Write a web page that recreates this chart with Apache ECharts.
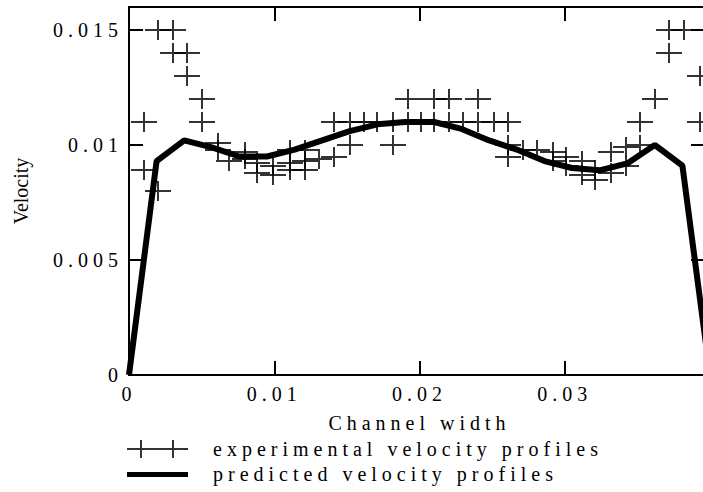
<!DOCTYPE html>
<html>
<head>
<meta charset="utf-8">
<title>Velocity profiles</title>
<script src="https://cdn.jsdelivr.net/npm/echarts@6.0.0/dist/echarts.min.js"></script>
<style>
    html, body { margin: 0; padding: 0; background: #fff; }
    #main { width: 703px; height: 492px; }
    /* the old plot is stretched sideways, so spread the flat text out */
    #main text { letter-spacing: 5px; }
    #main text[transform^="matrix(0,"], #main text[transform*="e-17"] { letter-spacing: 0; }
    /* hard black crosses and axes like the scanned plot, smooth thick line */
    #main path { shape-rendering: crispEdges; }
    #main path[stroke-width="6"] { shape-rendering: auto; }
</style>
</head>
<body>
<div id="main"></div>
<script>
// experimental points
var expX = [0.0010, 0.0010, 0.0020, 0.0020, 0.0030, 0.0030, 0.0040, 0.0040, 0.0050, 0.0050,
    0.0061, 0.0061, 0.0069, 0.0080, 0.0080, 0.0088, 0.0088, 0.0099, 0.0099,
    0.0111, 0.0111, 0.0111, 0.0121, 0.0121, 0.0121, 0.0131, 0.0141, 0.0152,
    0.0141, 0.0152, 0.0162, 0.0171, 0.0182, 0.0192, 0.0201, 0.0210, 0.0220, 0.0230, 0.0240, 0.0251, 0.0261,
    0.0192, 0.0210, 0.0220, 0.0240,
    0.0182, 0.0261, 0.0261, 0.0271, 0.0281,
    0.0292, 0.0292, 0.0301, 0.0301, 0.0312, 0.0312, 0.0321, 0.0321, 0.0332, 0.0332, 0.0342, 0.0342, 0.0352,
    0.0352, 0.0362, 0.0372, 0.0372, 0.0382, 0.0393, 0.0393];
var expY = [0.0110, 0.0089, 0.0080, 0.0150, 0.0150, 0.0140, 0.0140, 0.0130, 0.0120, 0.0110,
    0.0101, 0.0098, 0.0093, 0.0097, 0.0094, 0.0092, 0.0088, 0.0091, 0.0087,
    0.0098, 0.0092, 0.0089, 0.0098, 0.0093, 0.0089, 0.0094, 0.0095, 0.0100,
    0.0110, 0.0110, 0.0110, 0.0110, 0.0110, 0.0110, 0.0110, 0.0110, 0.0110, 0.0110, 0.0110, 0.0110, 0.0110,
    0.0120, 0.0120, 0.0120, 0.0120,
    0.0100, 0.0100, 0.0095, 0.0098, 0.0098,
    0.0097, 0.0093, 0.0095, 0.0091, 0.0093, 0.0087, 0.0089, 0.0085, 0.0097, 0.0088, 0.0099, 0.0091, 0.0100,
    0.0110, 0.0120, 0.0140, 0.0150, 0.0150, 0.0130, 0.0110];

// predicted profile
var predX = [0, 0.0019, 0.0038, 0.0057, 0.0076, 0.0095, 0.0114, 0.0133, 0.0152, 0.0171, 0.0190,
    0.0210, 0.0229, 0.0248, 0.0267, 0.0286, 0.0305, 0.0324, 0.0343, 0.0362, 0.0381, 0.0400];
var predY = [0, 0.0093, 0.0102, 0.0099, 0.0095, 0.0095, 0.0098, 0.0102, 0.0106, 0.0109, 0.0110,
    0.0110, 0.0107, 0.0102, 0.0098, 0.0093, 0.0090, 0.0089, 0.0092, 0.0100, 0.0091, 0];

var xTicks = [0, 0.01, 0.02, 0.03];
var xTickLabels = ['0', '0.01', '0.02', '0.03'];
var yTicks = [0, 0.005, 0.01, 0.015];
var yTickLabels = ['0', '0.005', '0.01', '0.015'];

var serif = 'Liberation Serif';
var plusPath = 'path://M0,9h26v2h-26zM12,0h2v20h-2z';
var plusIcon = 'path://M0,0M81,20M0,9h61v2h-61zM13,1h2v18h-2zM45,1h2v18h-2z';
var barIcon = 'path://M0,0M81,20M0,8h61v5h-61z';

var pickLabel = function (ticks, labels) {
    return function (v) {
        for (var i = 0; i < ticks.length; i++) {
            if (Math.abs(ticks[i] - v) < 1e-9) {
                return labels[i];
            }
        }
        return '';
    };
};

var initChart = function () {
    var myChart = echarts.init(document.getElementById('main'), null, {renderer: 'svg'});

    var expData = [];
    for (var i = 0; i < expX.length; i++) {
        expData.push([expX[i], expY[i]]);
    }
    var predData = [];
    for (var j = 0; j < predX.length; j++) {
        predData.push([predX[j], predY[j]]);
    }

    var axisLine = {show: true, onZero: false, lineStyle: {color: '#000', width: 2}};
    var option = {
        backgroundColor: '#fff',
        animation: false,
        grid: {left: 129, right: -7, top: 7, bottom: 117, outerBoundsMode: 'none'},
        legend: {
            orient: 'vertical',
            left: 127,
            top: 439,
            padding: 0,
            itemWidth: 81,
            itemHeight: 20,
            itemGap: 5,
            selectedMode: false,
            itemStyle: {borderWidth: 0},
            textStyle: {color: '#000', fontFamily: serif, fontSize: 20, lineHeight: 20},
            data: [
                {name: 'experimental velocity profiles', icon: plusIcon},
                {name: 'predicted velocity profiles', icon: barIcon}
            ]
        },
        xAxis: [
            {
                type: 'value',
                position: 'bottom',
                min: 0,
                max: 0.04,
                interval: 0.01,
                name: 'Channel width',
                nameLocation: 'middle',
                nameGap: 38,
                nameTextStyle: {color: '#000', fontFamily: serif, fontSize: 20},
                axisLine: axisLine,
                axisTick: {show: true, inside: true, length: 14, lineStyle: {color: '#000', width: 2}},
                axisLabel: {color: '#000', fontFamily: serif, fontSize: 20, margin: 9,
                    formatter: pickLabel(xTicks, xTickLabels)},
                splitLine: {show: false}
            },
            {
                type: 'value',
                position: 'top',
                min: 0,
                max: 0.04,
                interval: 0.01,
                axisLine: axisLine,
                axisTick: {show: true, inside: true, length: 14, lineStyle: {color: '#000', width: 2}},
                axisLabel: {show: false},
                splitLine: {show: false}
            }
        ],
        yAxis: [
            {
                type: 'value',
                position: 'left',
                min: 0,
                max: 0.016,
                interval: 0.005,
                name: 'Velocity',
                nameLocation: 'middle',
                nameRotate: 90,
                nameGap: 98,
                nameTextStyle: {color: '#000', fontFamily: serif, fontSize: 20},
                axisLine: axisLine,
                axisTick: {show: true, inside: true, length: 14, lineStyle: {color: '#000', width: 2}},
                axisLabel: {color: '#000', fontFamily: serif, fontSize: 20, margin: 6,
                    formatter: pickLabel(yTicks, yTickLabels)},
                splitLine: {show: false}
            },
            {
                type: 'value',
                position: 'right',
                min: 0,
                max: 0.016,
                interval: 0.005,
                axisLine: axisLine,
                axisTick: {show: true, inside: true, length: 19, lineStyle: {color: '#000', width: 2}},
                axisLabel: {show: false},
                splitLine: {show: false}
            }
        ],
        series: [
            {
                name: 'experimental velocity profiles',
                type: 'scatter',
                symbol: plusPath,
                symbolSize: [26, 20],
                itemStyle: {color: '#000'},
                z: 2,
                data: expData
            },
            {
                name: 'predicted velocity profiles',
                type: 'line',
                symbol: 'none',
                lineStyle: {color: '#000', width: 6},
                itemStyle: {color: '#000'},
                z: 3,
                data: predData
            }
        ]
    };
    myChart.setOption(option);
};

initChart();
</script>
</body>
</html>
